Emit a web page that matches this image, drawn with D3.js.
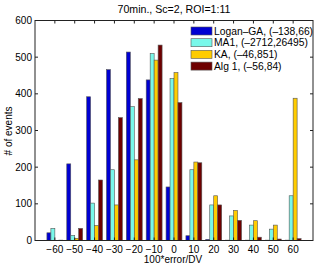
<!DOCTYPE html>
<html><head><meta charset="utf-8">
<script src="https://cdn.jsdelivr.net/npm/d3@7"></script>
<style>body{margin:0;background:#fff}svg{display:block}text{font-family:"Liberation Sans",Arial,sans-serif;fill:#000}</style>
</head><body>
<script>
const categories = [-60,-50,-40,-30,-20,-10,0,10,20,30,40,50,60];
const seriesNames = ["Logan\u2013GA, (\u2013138,66)","MA1, (\u20132712,26495)","KA, (\u201346,851)","Alg 1, (\u201356,84)"];
const logan = [21,209,392,466,514,438,146,13,3,1,1,1,1];
const ma1 = [33,14,102,193,365,510,442,193,97,67,42,31,122];
const ka = [0,6,41,97,220,492,458,214,122,82,54,42,388];
const alg1 = [1,33,165,335,387,533,376,212,97,55,9,4,5];
const colors = ["#0000d2","#78f8ea","#ffcc00","#6e0000"];
const yTicks = [0,100,200,300,400,500,600];
const xTicks = categories;
const title = "70min., Sc=2, ROI=1:11";
const xLabel = "100*error/DV";
const yLabel = "# of events";

const series = [logan, ma1, ka, alg1];
const W=318,H=266, L=35, R=313, T=20.5, B=240.5;
const svg=d3.select("body").append("svg").attr("width",W).attr("height",H);
const x=d3.scaleLinear().domain([-70,70]).range([L,R]);
const y=d3.scaleLinear().domain([0,600]).range([B,T]);
const sub=d3.scaleBand().domain(d3.range(series.length)).range([-4,4]).padding(0);

series.forEach((vals,si)=>{
  svg.append("g").selectAll("rect").data(vals).join("rect")
    .attr("x",(d,i)=>x(categories[i]+sub(si)))
    .attr("width",x(sub.bandwidth())-x(0))
    .attr("y",d=>y(d)).attr("height",d=>Math.max(0,y(0)-y(d)))
    .attr("fill",colors[si]).attr("stroke","#555").attr("stroke-width",0.6);
});

// box
svg.append("rect").attr("x",L).attr("y",T).attr("width",R-L).attr("height",B-T)
  .attr("fill","none").attr("stroke","#222").attr("stroke-width",1);
const tl=3;
const ax=svg.append("g").attr("stroke","#222").attr("stroke-width",1);
xTicks.forEach(t=>{
  ax.append("line").attr("x1",x(t)).attr("x2",x(t)).attr("y1",B).attr("y2",B-tl);
  ax.append("line").attr("x1",x(t)).attr("x2",x(t)).attr("y1",T).attr("y2",T+tl);
});
yTicks.forEach(t=>{
  ax.append("line").attr("x1",L).attr("x2",L+tl).attr("y1",y(t)).attr("y2",y(t));
  ax.append("line").attr("x1",R).attr("x2",R-tl).attr("y1",y(t)).attr("y2",y(t));
});
const fs=10;
svg.append("g").selectAll("text").data(xTicks).join("text")
  .attr("x",d=>x(d)).attr("y",253).attr("text-anchor","middle").attr("font-size",fs)
  .text(d=>d<0?"\u2212"+(-d):d);
svg.append("g").selectAll("text").data(yTicks).join("text")
  .attr("x",32).attr("y",d=>y(d)+3.5).attr("text-anchor","end").attr("font-size",fs)
  .text(d=>d);
svg.append("text").attr("x",174).attr("y",13).attr("text-anchor","middle").attr("font-size",10.6).text(title);
svg.append("text").attr("x",173).attr("y",263).attr("text-anchor","middle").attr("font-size",fs).text(xLabel);
svg.append("text").attr("transform","translate(12,131) rotate(-90)").attr("text-anchor","middle").attr("font-size",fs).text(yLabel);

// legend
const lg=svg.append("g");
seriesNames.forEach((n,i)=>{
  const cy=31+i*11.7;
  lg.append("rect").attr("x",191).attr("y",cy-4).attr("width",21).attr("height",8)
    .attr("fill",colors[i]).attr("stroke","#555").attr("stroke-width",0.6);
  lg.append("text").attr("x",214).attr("y",cy+3.6).attr("font-size",10.3).text(n);
});
</script>
</body></html>
